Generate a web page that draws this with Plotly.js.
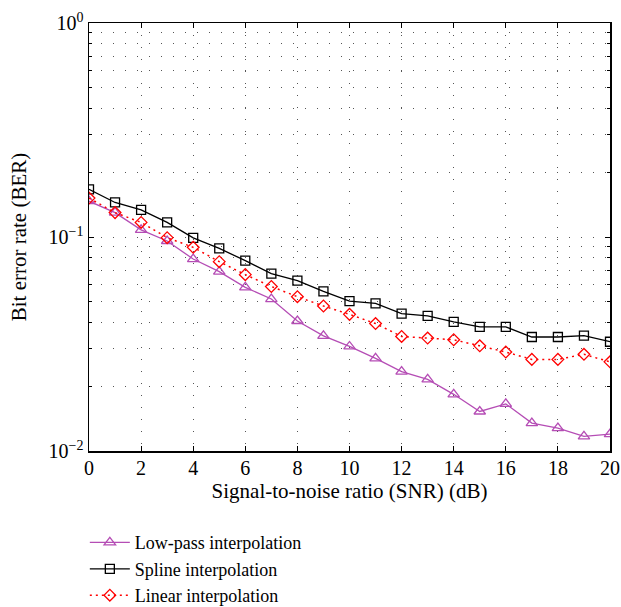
<!DOCTYPE html>
<html>
<head>
<meta charset="utf-8">
<script src="https://cdn.plot.ly/plotly-3.0.1.min.js"></script>
<style>html,body{margin:0;padding:0;background:#fff;}#chart{width:621px;height:607px;}</style>
</head>
<body>
<div id="chart"></div>
<script>
var snr = [0,1,2,3,4,5,6,7,8,9,10,11,12,13,14,15,16,17,18,19,20];
var lowpass = [0.147,0.130,0.108,0.0958,0.0789,0.0689,0.0582,0.0513,0.0405,0.0345,0.0308,0.0271,0.0235,0.0216,0.0184,0.0153,0.0166,0.0135,0.0128,0.0117,0.0120];
var spline = [0.167,0.145,0.134,0.117,0.099,0.0885,0.0775,0.0674,0.0625,0.0557,0.0502,0.049,0.0438,0.0428,0.0401,0.0380,0.0380,0.0341,0.0341,0.0346,0.0324];
var linear = [0.152,0.130,0.117,0.0993,0.0895,0.0767,0.0667,0.0587,0.0526,0.0476,0.0435,0.0394,0.0343,0.0337,0.0331,0.0310,0.0290,0.0268,0.0268,0.0283,0.0261];
var seriesNames = ["Low-pass interpolation","Spline interpolation","Linear interpolation"];
var xTicks = [0,2,4,6,8,10,12,14,16,18,20];
var yTickVals = [0.01,0.1,1];
var yTickText = ["10<sup>\u22122</sup>","10<sup>\u22121</sup>","10<sup>0</sup>"];
var yMinorVals = [0.02,0.03,0.04,0.05,0.06,0.07,0.08,0.09,0.2,0.3,0.4,0.5,0.6,0.7,0.8,0.9];

var font = "Liberation Serif, Times New Roman, serif";
var traces = [
  {x:snr, y:lowpass, name:seriesNames[0], mode:"lines+markers",
   line:{color:"#b54db5", width:1.3},
   marker:{symbol:"triangle-up-open", size:10, color:"#b54db5", line:{width:1.3}}},
  {x:snr, y:spline, name:seriesNames[1], mode:"lines+markers",
   line:{color:"#000000", width:1.3},
   marker:{symbol:"square-open", size:9, color:"#000000", line:{width:1.3}}},
  {x:snr, y:linear, name:seriesNames[2], mode:"lines+markers",
   line:{color:"#ff0000", width:1.5, dash:"2px,4px"},
   marker:{symbol:"diamond-open", size:9, color:"#ff0000", line:{width:1.3}}}
];
var layout = {
  width:621, height:607,
  margin:{l:89, r:11, t:23, b:156, autoexpand:false},
  paper_bgcolor:"#fff", plot_bgcolor:"#fff",
  font:{family:font, size:20, color:"#000"},
  showlegend:true,
  legend:{x:-0.008, y:-0.171, xanchor:"left", yanchor:"top",
          bgcolor:"rgba(0,0,0,0)", font:{family:font, size:18}, tracegroupgap:0, itemwidth:40},
  xaxis:{range:[0,20], tickvals:xTicks, ticks:"inside", ticklen:5, tickcolor:"#000",
         showline:true, linecolor:"#000", linewidth:1.5, mirror:"ticks",
         showgrid:true, gridcolor:"#555", griddash:"1px,11px", gridwidth:1,
         zeroline:false, tickfont:{family:font, size:20}, ticklabelstandoff:-2,
         title:{text:"Signal-to-noise ratio (SNR) (dB)", font:{family:font, size:21}, standoff:6}},
  yaxis:{type:"log", range:[-2,0], tickvals:yTickVals, ticktext:yTickText,
         ticks:"inside", ticklen:5, tickcolor:"#000",
         showline:true, linecolor:"#000", linewidth:1.5, mirror:"ticks",
         showgrid:true, gridcolor:"#555", griddash:"1px,11px", gridwidth:1,
         zeroline:false, tickfont:{family:font, size:20},
         minor:{tickvals:yMinorVals, ticks:"inside", ticklen:3, tickcolor:"#000",
                showgrid:true, gridcolor:"#555", griddash:"1px,11px", gridwidth:1},
         title:{text:"Bit error rate (BER)", font:{family:font, size:21}, standoff:16}}
};
Plotly.newPlot("chart", traces, layout, {displayModeBar:false, staticPlot:true});
</script>
</body>
</html>
